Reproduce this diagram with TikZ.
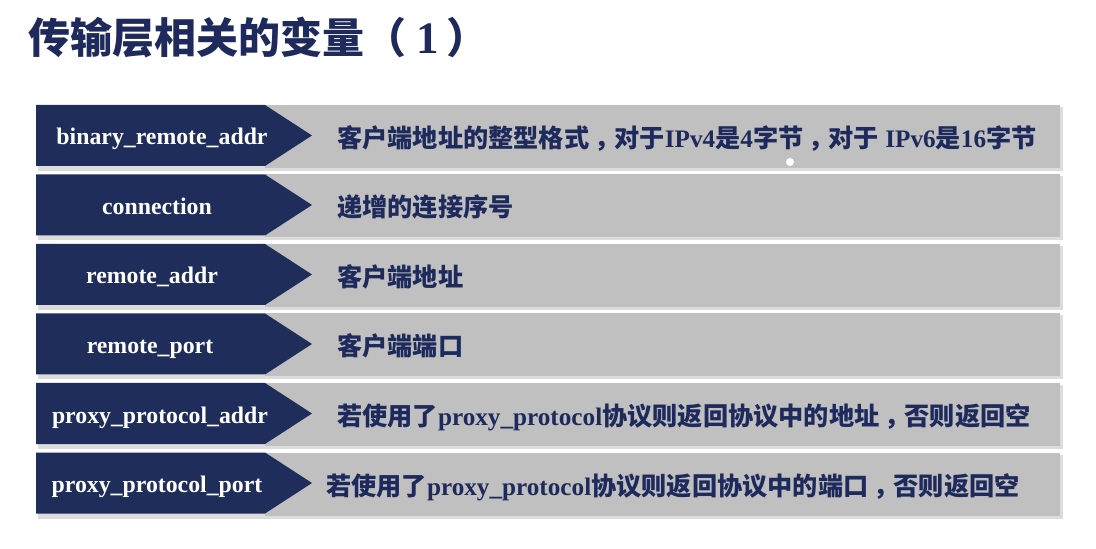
\documentclass[tikz,border=0pt]{standalone}
\usepackage{fontspec}
\setmainfont{Liberation Serif}
\newfontfamily\cjk{Noto Sans CJK SC}
\definecolor{navy}{HTML}{1F2D5B}
\definecolor{txtnavy}{HTML}{1E2A5C}
\definecolor{bargray}{HTML}{C0C0C0}
\definecolor{shadegray}{HTML}{DCDCDC}
\newcommand\cmm{\hspace*{0.2em}，\hspace*{-0.2em}}
\tikzset{
  lab/.style={anchor=base, inner sep=0pt, text=white, font=\bfseries\fontsize{23.8bp}{30bp}\selectfont},
  desc/.style={anchor=base west, inner sep=0pt, text=txtnavy, font=\bfseries\fontsize{25.2bp}{30bp}\selectfont},
  titletext/.style={anchor=base west, inner sep=0pt, text=txtnavy, font=\bfseries\fontsize{42bp}{50bp}\selectfont}
}
\newcommand\varrow[6]{%
  \fill[shadegray] (38,#1+2) rectangle (1063,#1+66);
  \fill[bargray] (265,#1) rectangle (1060,#1+63);
  \fill[navy] (36,#1) -- (265,#1) -- (312,#1+30.5) -- (265,#1+61) -- (36,#1+61) -- cycle;
  \node[lab] (lab#6) at (#2,#1+40) {#3};
  \node[desc] (desc#6) at (#4,#1+42.5) {#5};
}
\begin{document}
\begin{tikzpicture}[x=1bp,y=-1bp]
\useasboundingbox (0,0) rectangle (1096,549);
\fill[white] (0,0) rectangle (1096,549);
\node[titletext] (title) at (28,54) {{\cjk 传输层相关的变量（}\hspace{10bp}{\fontsize{45bp}{50bp}\selectfont 1}\hspace{8bp}{\cjk ）}};
\varrow{105}{162}{binary\_remote\_addr}{337}{{\cjk 客户端地址的整型格式\cmm 对于}IPv4{\cjk 是}4{\cjk 字节\cmm 对于} IPv6{\cjk 是}16{\cjk 字节}}{1}
\varrow{174.5}{157}{connection}{337}{{\cjk 递增的连接序号}}{2}
\varrow{244}{152}{remote\_addr}{337}{{\cjk 客户端地址}}{3}
\varrow{313.5}{150}{remote\_port}{337}{{\cjk 客户端端口}}{4}
\varrow{383}{160}{proxy\_protocol\_addr}{337}{{\cjk 若使用了}proxy\_protocol{\cjk 协议则返回协议中的地址\cmm 否则返回空}}{5}
\varrow{452.5}{157}{proxy\_protocol\_port}{326}{{\cjk 若使用了}proxy\_protocol{\cjk 协议则返回协议中的端口\cmm 否则返回空}}{6}
\fill[white] (790,162) circle (4);
\end{tikzpicture}
\end{document}
